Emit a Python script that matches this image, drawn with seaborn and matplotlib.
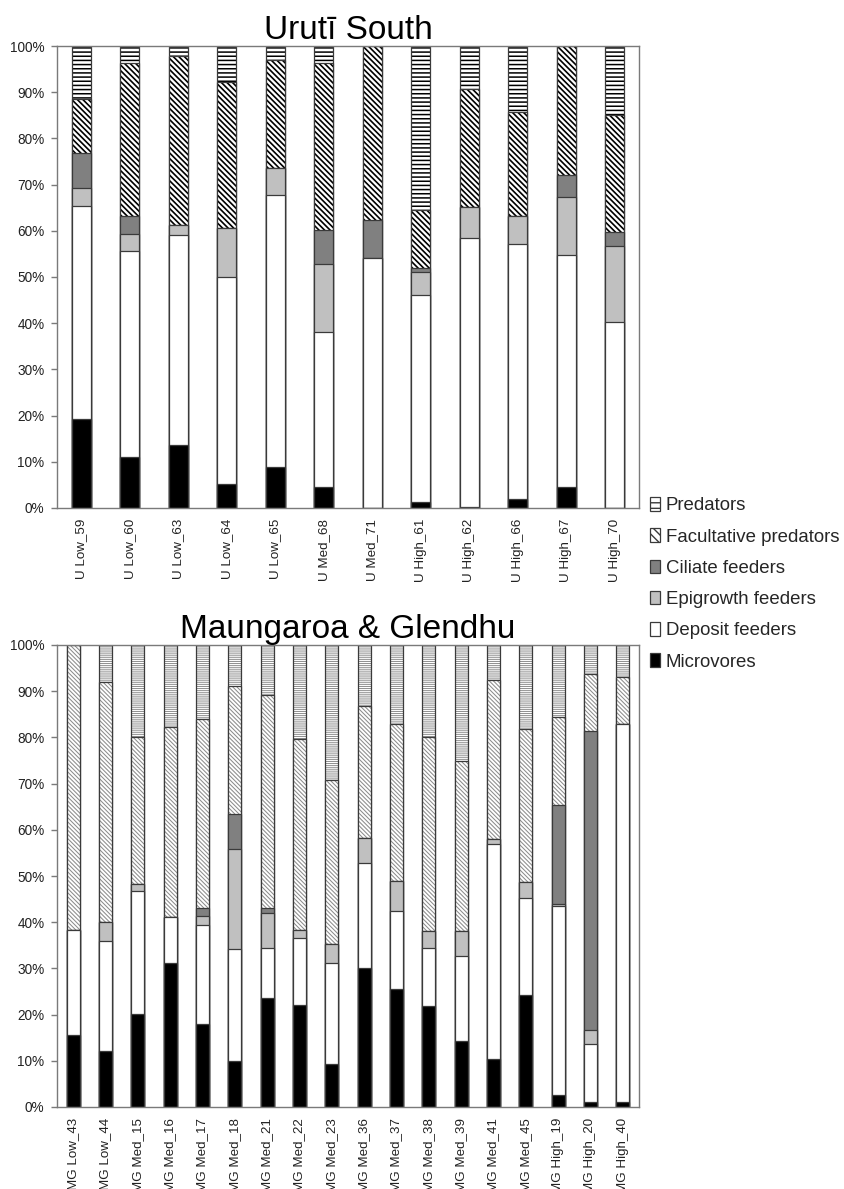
import matplotlib
matplotlib.use("Agg")
import matplotlib.pyplot as plt
from matplotlib.patches import Patch
import seaborn as sns

# ---- data (percent of individuals per feeding group) ----
uruti_sites = ["U Low_59", "U Low_60", "U Low_63", "U Low_64", "U Low_65", "U Med_68",
               "U Med_71", "U High_61", "U High_62", "U High_66", "U High_67", "U High_70"]
uruti_microvores = [19.3, 11.0, 13.6, 5.2, 8.9, 4.5, 0.0, 1.2, 0.3, 1.9, 4.5, 0.0]
uruti_deposit = [46.1, 44.7, 45.4, 44.8, 58.8, 33.6, 54.1, 44.8, 58.2, 55.3, 50.2, 40.3]
uruti_epigrowth = [3.8, 3.5, 2.3, 10.6, 5.8, 14.8, 0.0, 5.0, 6.7, 6.1, 12.7, 16.4]
uruti_ciliate = [7.7, 3.9, 0.0, 0.0, 0.0, 7.2, 8.2, 0.9, 0.0, 0.0, 4.7, 3.1]
uruti_facultative = [11.6, 33.3, 36.5, 31.6, 23.4, 36.2, 37.7, 12.7, 25.5, 22.5, 27.9, 25.2]
uruti_predators = [11.5, 3.6, 2.2, 7.8, 3.1, 3.7, 0.0, 35.4, 9.3, 14.2, 0.0, 15.0]

mg_sites = ["MG Low_43", "MG Low_44", "MG Med_15", "MG Med_16", "MG Med_17", "MG Med_18",
            "MG Med_21", "MG Med_22", "MG Med_23", "MG Med_36", "MG Med_37", "MG Med_38",
            "MG Med_39", "MG Med_41", "MG Med_45", "MG High_19", "MG High_20", "MG High_40"]
mg_microvores = [15.5, 12.1, 20.1, 31.1, 17.9, 10.0, 23.5, 22.1, 9.4, 30.1, 25.5, 21.9,
                 14.3, 10.4, 24.3, 2.5, 1.0, 1.0]
mg_deposit = [22.9, 23.8, 26.6, 10.1, 21.4, 24.1, 11.0, 14.5, 21.8, 22.7, 17.0, 12.6,
              18.4, 46.6, 21.0, 40.9, 12.6, 82.0]
mg_epigrowth = [0.0, 4.1, 1.6, 0.0, 2.0, 21.7, 7.4, 1.8, 4.1, 5.5, 6.5, 3.7,
                5.4, 1.0, 3.3, 0.5, 3.0, 0.0]
mg_ciliate = [0.0, 0.0, 0.0, 0.0, 1.7, 7.7, 1.1, 0.0, 0.0, 0.0, 0.0, 0.0,
              0.0, 0.0, 0.0, 21.5, 64.7, 0.0]
mg_facultative = [61.6, 52.0, 31.7, 41.1, 40.9, 27.7, 46.2, 41.2, 35.5, 28.4, 33.8, 41.8,
                  36.9, 34.4, 33.3, 19.0, 12.5, 10.0]
mg_predators = [0.0, 8.0, 20.0, 17.7, 16.1, 8.8, 10.8, 20.4, 29.2, 13.3, 17.2, 20.0,
                25.0, 7.6, 18.1, 15.6, 6.2, 7.0]

groups = ["Predators", "Facultative predators", "Ciliate feeders",
          "Epigrowth feeders", "Deposit feeders", "Microvores"]
group_faces = ["white", "white", "#808080", "#c0c0c0", "white", "black"]

EDGE = "#3a3a3a"
BAR_W = 0.4

sns.set_theme(style="white")
plt.rcParams["font.family"] = ["Liberation Sans", "DejaVu Sans"]
plt.rcParams["axes.edgecolor"] = "#7a7a7a"
plt.rcParams["axes.linewidth"] = 1.0

fig = plt.figure(figsize=(8.45, 11.89), dpi=100)
ax_top = fig.add_axes([57 / 845, 1 - 508 / 1189, 582 / 845, 462 / 1189])
ax_bot = fig.add_axes([57 / 845, 1 - 1107 / 1189, 582 / 845, 462 / 1189])


def cumulative(series):
    """Running totals from the bottom segment up, returned top segment first."""
    totals = []
    run = [0.0] * len(series[0])
    for s in series:
        run = [a + b for a, b in zip(run, s)]
        totals.append(list(run))
    return totals[::-1]


def draw_layer(ax, sites, heights, face, hatch=None, hatch_color=None, hatch_lw=1.0):
    if hatch:
        plt.rcParams["hatch.linewidth"] = hatch_lw
        sns.barplot(x=sites, y=heights, ax=ax, color=face, saturation=1, width=BAR_W,
                    edgecolor=hatch_color, linewidth=0, hatch=hatch, errorbar=None)
        sns.barplot(x=sites, y=heights, ax=ax, color=EDGE, saturation=1, width=BAR_W,
                    fill=False, linewidth=0.9, errorbar=None)
    else:
        sns.barplot(x=sites, y=heights, ax=ax, color=face, saturation=1, width=BAR_W,
                    edgecolor=EDGE, linewidth=0.9, errorbar=None)


def draw_chart(ax, sites, series_bottom_up, title, hatches):
    totals = cumulative(series_bottom_up)
    for heights, face, hstyle in zip(totals, group_faces, hatches):
        if hstyle is None:
            draw_layer(ax, sites, heights, face)
        else:
            draw_layer(ax, sites, heights, face, *hstyle)
    ax.set_ylim(0, 100)
    ax.set_xlim(-0.5, len(sites) - 0.5)
    ax.set_yticks(range(0, 101, 10))
    ax.set_yticklabels([f"{v}%" for v in range(0, 101, 10)], fontsize=9.8, color="#222222")
    ax.set_xticks(range(len(sites)))
    ax.set_xticklabels(sites, rotation=90, fontsize=9.6, color="#222222")
    ax.tick_params(axis="y", length=4, width=1, color="#7a7a7a", pad=5, left=True)
    ax.tick_params(axis="x", length=0, pad=8)
    ax.set_xlabel("")
    ax.set_ylabel("")
    for sp in ax.spines.values():
        sp.set_visible(True)
        sp.set_color("#7a7a7a")
    ax.set_title(title, fontsize=24, pad=5, color="black")


top_hatches = [("----", "black", 1.1), ("\\\\\\\\\\\\", "black", 1.2), None, None, None, None]
bot_hatches = [("--------", "#8c8c8c", 0.7), ("\\\\\\\\\\\\\\\\", "#8c8c8c", 0.75), None, None, None, None]

draw_chart(ax_top, uruti_sites,
           [uruti_microvores, uruti_deposit, uruti_epigrowth, uruti_ciliate,
            uruti_facultative, uruti_predators],
           "Urutī South", top_hatches)
draw_chart(ax_bot, mg_sites,
           [mg_microvores, mg_deposit, mg_epigrowth, mg_ciliate,
            mg_facultative, mg_predators],
           "Maungaroa & Glendhu", bot_hatches)

# legend, styled after the upper chart
plt.rcParams["hatch.linewidth"] = 1.0
handles = [
    Patch(facecolor="white", edgecolor=EDGE, hatch="---", linewidth=0.9),
    Patch(facecolor="white", edgecolor=EDGE, hatch="\\\\\\\\", linewidth=0.9),
    Patch(facecolor="#808080", edgecolor=EDGE, linewidth=0.9),
    Patch(facecolor="#c0c0c0", edgecolor=EDGE, linewidth=0.9),
    Patch(facecolor="white", edgecolor=EDGE, linewidth=0.9),
    Patch(facecolor="black", edgecolor=EDGE, linewidth=0.9),
]
fig.legend(handles, groups, loc="upper left", bbox_to_anchor=(650 / 845, 1 - 497 / 1189),
           frameon=False, fontsize=13.4, handlelength=0.55, handleheight=0.75,
           handletextpad=0.3, labelspacing=0.75, borderpad=0, borderaxespad=0)

fig.savefig("out.png", dpi=100)
